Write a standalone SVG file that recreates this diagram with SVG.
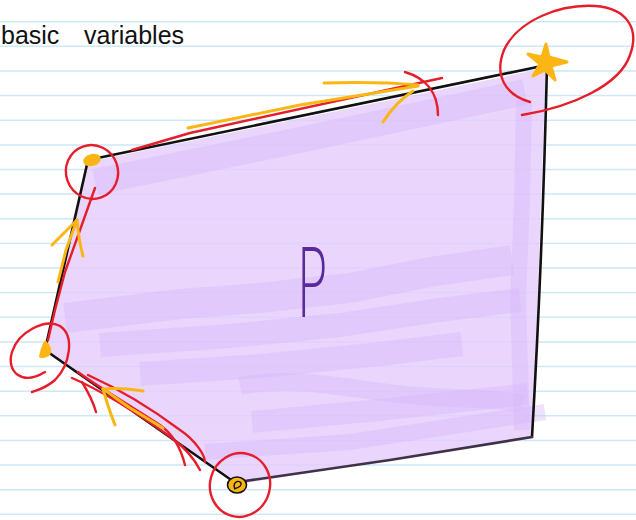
<svg xmlns="http://www.w3.org/2000/svg" width="636" height="520" viewBox="0 0 636 520">
<style>
.rule{stroke:#cde8f8;stroke-width:1.5;fill:none}
.fill{fill:#e5ccfc;fill-opacity:0.8}
.scr{fill:none;stroke:#d6b7fb;stroke-opacity:0.4;stroke-linejoin:miter;stroke-linecap:butt}
.edge{fill:none;stroke:#111;stroke-width:2.6;stroke-linecap:round;stroke-linejoin:round}
.red{fill:none;stroke:#e61e2b;stroke-width:2.4;stroke-linecap:round;stroke-linejoin:round}
.yel{fill:none;stroke:#fbb616;stroke-width:3;stroke-linecap:round;stroke-linejoin:round}
.ink{font-family:'Liberation Sans','DejaVu Sans',sans-serif;fill:#111}
</style>
<rect width="636" height="520" fill="#fff"/>
<g id="paper">
<path class="rule" d="M0,21.7H636M0,46.3H636M0,71H636M0,95.6H636M0,120.2H636M0,144.9H636M0,169.5H636M0,194.1H636M0,218.7H636M0,243.4H636M0,268H636M0,292.6H636M0,317.3H636M0,341.9H636M0,366.5H636M0,391.2H636M0,415.8H636M0,440.4H636M0,465H636M0,489.7H636M0,514.3H636"/>
</g>
<g id="region-P">
<polygon class="fill" points="88,162 546,68 541,200 533,437 240,484 46,352 60,290"/>
<path class="scr" stroke-width="26" d="M95,182 L300,140 L525,92"/>
<path class="scr" stroke-width="16" d="M524,100 L522,200 L518,300 L522,430"/>
<path class="scr" stroke-width="30" d="M65,318 L180,304 L260,298 L350,288 L430,272 L512,260"/>
<path class="scr" stroke-width="24" d="M100,345 L230,336 L340,325 L440,310 L520,300"/>
<path class="scr" stroke-width="24" d="M140,374 L260,366 L380,354 L462,344"/>
<path class="scr" stroke-width="18" d="M240,386 C300,374 360,392 420,396 C470,400 500,398 522,404"/>
<path class="scr" stroke-width="22" d="M252,422 L380,410 L528,394"/>
<path class="scr" stroke-width="16" d="M205,452 L350,442 L545,412"/>
<text x="0" y="0" transform="translate(296,317) scale(0.55,1)" font-family="'DejaVu Sans',sans-serif" font-weight="200" font-size="96" fill="#5b2a9a">P</text>
</g>
<g id="connectors">
<path id="edge-top" class="edge" d="M88,160 L547,65"/>
<path id="edge-right" class="edge" d="M547,65 C545,150 540,300 532,437"/>
<path id="edge-bottom" class="edge" style="stroke:#3f3148" d="M532,437 L390,460 L245,481"/>
<path id="edge-lower-left" class="edge" d="M237,484 L45,350"/>
<path id="edge-left" class="edge" d="M45,350 L88,160"/>
</g>
<g id="annotations">
<path class="red" d="M132,150 L190,133 L442,78"/>
<path class="red" d="M405,72 C425,78 438,92 438,115"/>
<path class="red" d="M95,188 L80,230 L65,272 L55,310 L48,340"/>
<path class="red" d="M72,378 C100,390 140,415 172,438 C185,448 195,460 200,470"/>
<path class="red" d="M78,372 C95,385 125,402 160,425 C170,432 180,445 185,465"/>
<path class="red" d="M82,382 C90,395 94,405 96,412"/>
<path class="red" d="M88,375 C110,385 140,400 180,430 C195,440 205,455 205,462"/>
<path class="yel" d="M188,128 L300,105 L418,86"/>
<path class="yel" d="M324,83 C360,82 395,83 418,85"/>
<path class="yel" d="M383,122 C392,108 402,98 413,91"/>
<path class="yel" d="M58,282 L66,250 L77,220"/>
<path class="yel" d="M52,245 C62,235 70,227 77,220"/>
<path class="yel" d="M83,256 C80,245 78,232 77,220"/>
<path class="yel" d="M103,389 L130,408 L163,428"/>
<path class="yel" d="M103,389 C115,388 130,389 143,391"/>
<path class="yel" d="M103,389 C106,400 110,412 115,425"/>
</g>
<g id="vertex-top-right">
<path class="red" d="M530,102 C505,95 494,75 504,50 C518,20 560,4 595,6 C626,8 640,28 630,55 C620,85 572,107 522,115"/>
<polygon points="546,44 549,57 567,62 551,66 555,80 545,70 533,76 540,64 528,54 542,57" fill="#fbb616" stroke="#fbb616" stroke-width="3" stroke-linejoin="round"/>
</g>
<g id="vertex-top-left">
<ellipse cx="92" cy="172" rx="26" ry="27" transform="rotate(-20 92 172)" class="red"/>
<ellipse cx="92" cy="160" rx="9" ry="6" transform="rotate(-15 92 160)" fill="#fbb616"/>
</g>
<g id="vertex-left">
<path class="red" d="M45,372 C22,386 6,372 12,352 C18,332 45,318 60,326 C75,336 70,365 55,380 C46,388 38,390 32,392"/>
<path d="M45,340 C50,344 53,350 50,355 C47,358 41,359 39,357 C40,350 42,345 45,340Z" fill="#fbb616"/>
</g>
<g id="vertex-bottom">
<ellipse cx="240" cy="485" rx="30" ry="32" transform="rotate(15 240 485)" class="red"/>
<ellipse cx="237" cy="485" rx="9.5" ry="8" fill="#fbb616" stroke="#111" stroke-width="1.6"/>
<path d="M235,489 C232,483 238,479 241,483 C242,487 237,488 234,489" fill="none" stroke="#111" stroke-width="1.4"/>
</g>
<g id="title">
<text class="ink" font-size="25" y="44"><tspan x="1">basic</tspan><tspan x="84">variables</tspan></text>
</g>
</svg>
